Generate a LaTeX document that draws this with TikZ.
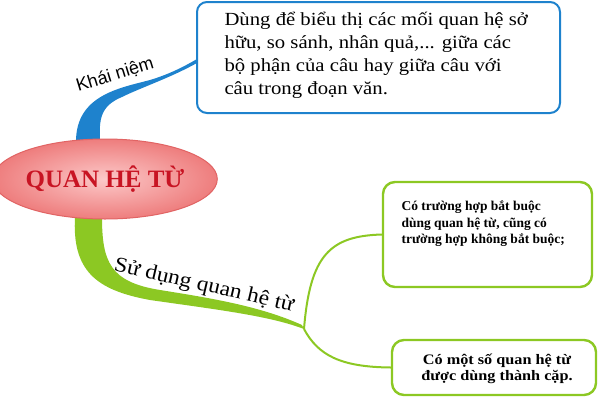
\documentclass[tikz,border=0pt]{standalone}
\usepackage{fontspec}
\setmainfont{Liberation Serif}
\newfontfamily\wideserif[FakeStretch=1.12]{Liberation Serif}
\newfontfamily\labelsans{Liberation Sans}
\usetikzlibrary{shapes.geometric,calc,backgrounds}
\definecolor{concept-blue}{RGB}{30,130,205}
\definecolor{use-green}{RGB}{140,200,35}
\definecolor{core-red}{RGB}{200,20,35}
\tikzset{
    def-box/.style = {draw=concept-blue, fill=white, line width=2pt, rectangle, rounded corners=10pt, inner sep=0pt},
    case-box/.style = {draw=use-green, fill=white, line width=2.4pt, rectangle, rounded corners=12pt, inner sep=0pt},
    core-ellipse/.style = {ellipse, draw={rgb,255:red,225;green,100;blue,100}, line width=1pt, inner color={rgb,255:red,252;green,200;blue,200}, outer color={rgb,255:red,238;green,125;blue,125}, minimum width=200pt, minimum height=80pt, inner sep=0pt},
    branch-label/.style = {inner sep=1pt},
}

\begin{document}
\begin{tikzpicture}[x=1pt,y=-1pt]
\useasboundingbox (0,0) rectangle (600,400);
\node [core-ellipse, font=\fontsize{25}{28}\selectfont\bfseries, text=core-red] (core) at (105,179) {QUAN HỆ TỪ};
\node [def-box, minimum width=363pt, minimum height=111pt] (def) at (378.5,57.5) {};
\node [align=left, anchor=west, font=\wideserif\fontsize{18.5}{23}\selectfont] (def-text) at (221,55) {Dùng để biểu thị các mối quan hệ sở\\hữu, so sánh, nhân quả,... giữa các\\bộ phận của câu hay giữa câu với\\câu trong đoạn văn.};
\node [case-box, minimum width=209pt, minimum height=105pt] (case1) at (487.5,234.5) {};
\node [align=left, anchor=west, font=\fontsize{13.5}{16.5}\selectfont\bfseries] (case1-text) at (398,224) {Có trường hợp bắt buộc\\dùng quan hệ từ, cũng có\\trường hợp không bắt buộc;};
\node [case-box, minimum width=204pt, minimum height=55pt] (case2) at (494,367.5) {};
\node [align=center, font=\wideserif\fontsize{14.5}{16}\selectfont\bfseries] (case2-text) at (497,369) {Có một số quan hệ từ\\được dùng thành cặp.};
\node [branch-label, rotate=17, font=\labelsans\fontsize{18}{20}\selectfont] (concept-label) at (115,75) {Khái niệm};
\node [branch-label, rotate=-13, font=\wideserif\fontsize{21}{24}\selectfont] (use-label) at (204,286) {Sử dụng quan hệ từ};
\coordinate (fork) at (304,329);
% branches
\begin{scope}[on background layer]
\fill [concept-blue] ($(core.north)+(-29,3)$) .. controls (76,95) and (120,88) .. (150,80) .. controls (170,74) and (185,66) .. ($(def.west)+(1,1.5)$) -- ($(def.west)+(1,5.5)$) .. controls (170,78) and (140,88) .. (122,97) .. controls (100,106) and (99,120) .. ($(core.north)+(-5,3)$) -- cycle;
\fill [use-green] ($(core.south)+(-30,-3)$) .. controls (72,270) and (95,290) .. (150,300) .. controls (220,310) and (270,316) .. (fork) -- ($(fork)+(-2,-4)$) .. controls (260,306) and (210,298) .. (160,290) .. controls (110,282) and (102,262) .. ($(core.south)+(-3,-3)$) -- cycle;
\draw [use-green, line width=2pt] (fork) .. controls (310,255) and (330,236) .. (case1.west);
\draw [use-green, line width=2pt] (fork) .. controls (318,355) and (340,367) .. (case2.west);
\end{scope}
\end{tikzpicture}
\end{document}
